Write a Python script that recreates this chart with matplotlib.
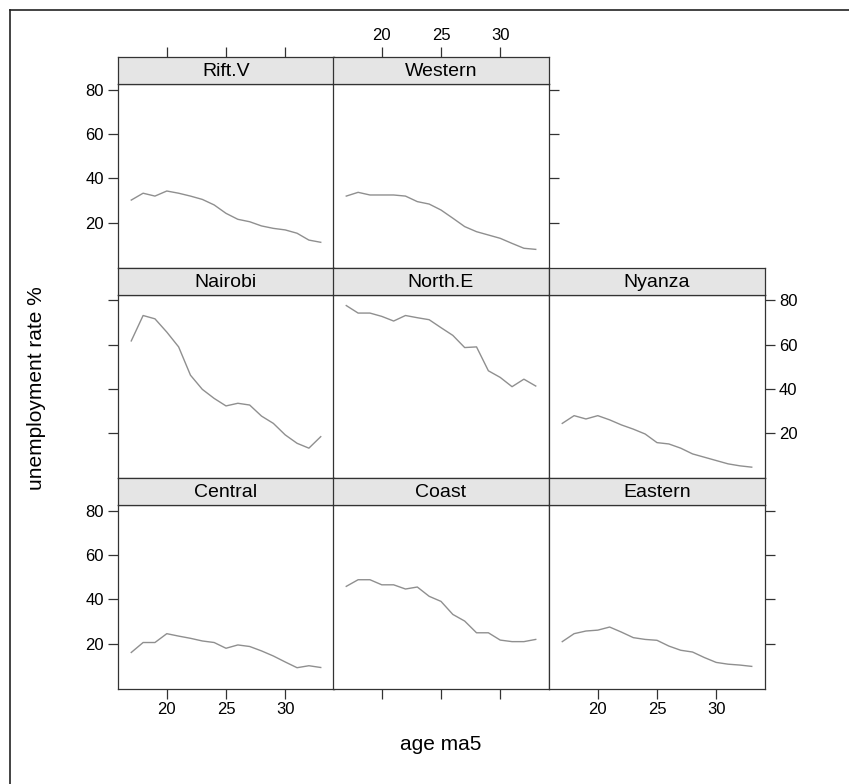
import matplotlib
matplotlib.use("Agg")
import matplotlib.pyplot as plt
from matplotlib.lines import Line2D

plt.rcParams['font.family'] = ['Liberation Sans', 'DejaVu Sans']

ages = list(range(17, 34))

rift_v = [30.2, 33.3, 32.0, 34.3, 33.3, 32.0, 30.5, 28.0, 24.2, 21.5, 20.4, 18.5, 17.4, 16.7, 15.2, 12.1, 11.1]
western = [32.0, 33.7, 32.5, 32.5, 32.5, 32.0, 29.5, 28.4, 25.7, 22.0, 18.2, 15.9, 14.4, 12.9, 10.6, 8.4, 7.9]
nairobi = [61.7, 73.2, 71.7, 65.7, 59.0, 46.2, 39.8, 35.7, 32.3, 33.5, 32.7, 27.7, 24.4, 19.2, 15.4, 13.2, 18.4]
north_e = [77.7, 74.3, 74.3, 72.8, 70.7, 73.2, 72.2, 71.3, 67.7, 64.2, 58.7, 59.0, 48.2, 45.2, 41.0, 44.4, 41.3]
nyanza = [24.4, 27.9, 26.4, 27.9, 26.0, 23.7, 21.8, 19.6, 15.7, 15.1, 13.2, 10.6, 9.1, 7.6, 6.1, 5.2, 4.6]
central = [16.0, 20.5, 20.5, 24.5, 23.4, 22.4, 21.2, 20.5, 17.9, 19.4, 18.7, 16.7, 14.4, 11.7, 9.1, 10.0, 9.2]
coast = [45.9, 48.9, 48.9, 46.6, 46.6, 44.7, 45.6, 41.4, 39.1, 33.2, 30.2, 24.9, 24.9, 21.6, 20.9, 20.9, 21.9]
eastern = [20.9, 24.5, 25.7, 26.1, 27.5, 25.2, 22.7, 21.9, 21.5, 18.9, 17.0, 16.2, 13.7, 11.5, 10.7, 10.3, 9.7]

x_ticks = [20, 25, 30]
y_ticks = [20, 40, 60, 80]

# (name, values, row, col)
panels = [
    ("Rift.V", rift_v, 0, 0),
    ("Western", western, 0, 1),
    ("Nairobi", nairobi, 1, 0),
    ("North.E", north_e, 1, 1),
    ("Nyanza", nyanza, 1, 2),
    ("Central", central, 2, 0),
    ("Coast", coast, 2, 1),
    ("Eastern", eastern, 2, 2),
]

W, H = 849, 784
fig = plt.figure(figsize=(W / 100, H / 100), dpi=100)

col_x = [118, 333, 549]
col_w = 216
row_top = [57, 267.5, 478]
strip_h = 27
row_h = 210.5

XLIM = (15.88, 34.12)
YLIM = (-0.3, 82.7)
edge = "#333333"
tick_kw = dict(length=7, width=0.9, color=edge, labelsize=12, pad=3)


def fr(x, y, w, h):
    return [x / W, 1 - (y + h) / H, w / W, h / H]


for name, vals, r, c in panels:
    px = col_x[c]
    st = row_top[r]
    ax = fig.add_axes(fr(px, st + strip_h, col_w, row_h - strip_h))
    sx = fig.add_axes(fr(px, st, col_w, strip_h))
    ax.plot(ages, vals, color="#8f8f8f", lw=1.0)
    ax.set_xlim(*XLIM)
    ax.set_ylim(*YLIM)
    for a in (ax, sx):
        for s in a.spines.values():
            s.set_color(edge)
            s.set_linewidth(0.9)
    sx.set_facecolor("#e5e5e5")
    sx.set_xlim(*XLIM)
    sx.set_ylim(0, 1)
    sx.text(0.5, 0.45, name, transform=sx.transAxes, ha="center", va="center", fontsize=14)
    sx.set_yticks([])

    last_col = max(p[3] for p in panels if p[2] == r)
    ax.set_yticks(y_ticks)
    left = c == 0
    right = c == last_col
    ax.tick_params(axis="y", direction="out", left=left, right=right,
                   labelleft=left and r % 2 == 0, labelright=right and r % 2 == 1, **tick_kw)

    ax.set_xticks(x_ticks)
    bottom = r == 2
    ax.tick_params(axis="x", direction="out", bottom=bottom, top=False,
                   labelbottom=bottom and c % 2 == 0, labeltop=False, **tick_kw)
    top = r == 0
    sx.set_xticks(x_ticks)
    sx.tick_params(axis="x", direction="out", bottom=False, top=top,
                   labelbottom=False, labeltop=top and c % 2 == 1, **tick_kw)

fig.text(441 / W, 1 - 744 / H, "age ma5", ha="center", va="center", fontsize=15)
fig.text(37 / W, 1 - 388 / H, "unemployment rate %", ha="center", va="center",
         rotation=90, fontsize=15)

fig.add_artist(Line2D([9.5 / W, 9.5 / W], [0, 1 - 10 / H], transform=fig.transFigure,
                      color="#222222", lw=1.2))
fig.add_artist(Line2D([9.5 / W, 1], [1 - 10 / H, 1 - 10 / H], transform=fig.transFigure,
                      color="#222222", lw=1.2))

fig.savefig("out.png", dpi=100)
